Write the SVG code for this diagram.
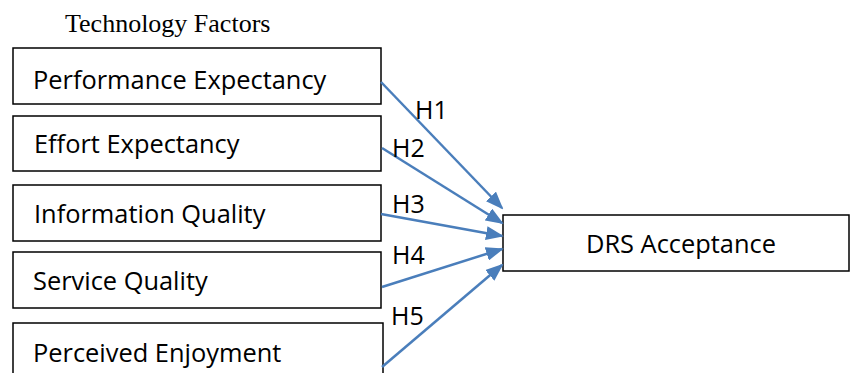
<svg xmlns="http://www.w3.org/2000/svg" width="851" height="373" viewBox="0 0 851 373">
<style>
.box{fill:#fff;stroke:#000;stroke-width:1.5}
.lbl{font-family:"Open Sans","Liberation Sans",sans-serif;font-size:25.4px;fill:#000}
.h{font-family:"Open Sans","Liberation Sans",sans-serif;font-size:25px;fill:#000}
.title{font-family:"Liberation Serif",serif;font-size:26px;fill:#000}
.conn{stroke:#4a7ebb;stroke-width:2.5;fill:none;marker-end:url(#ah)}
</style>
<defs>
<marker id="ah" markerUnits="userSpaceOnUse" markerWidth="18" markerHeight="14" refX="16" refY="7" orient="auto">
<path d="M0,0 L18,7 L0,14 z" fill="#4a7ebb"/>
</marker>
</defs>
<rect width="851" height="373" fill="#fff"/>
<text class="title" x="65" y="32">Technology Factors</text>
<g id="n1"><rect class="box" x="13" y="48" width="368" height="56"/><text class="lbl" x="33" y="89">Performance Expectancy</text></g>
<g id="n2"><rect class="box" x="13" y="116" width="368" height="55"/><text class="lbl" x="34" y="153">Effort Expectancy</text></g>
<g id="n3"><rect class="box" x="13" y="185" width="368" height="56"/><text class="lbl" x="34" y="223">Information Quality</text></g>
<g id="n4"><rect class="box" x="13" y="252" width="368" height="56"/><text class="lbl" x="33" y="290">Service Quality</text></g>
<g id="n5"><rect class="box" x="13" y="323" width="370" height="60"/><text class="lbl" x="33" y="362">Perceived Enjoyment</text></g>
<g id="n6"><rect class="box" x="503" y="215" width="346" height="56"/><text class="lbl" x="586" y="253">DRS Acceptance</text></g>
<g id="connectors">
<line class="conn" x1="381" y1="82" x2="502" y2="208"/>
<line class="conn" x1="382" y1="148" x2="502" y2="223"/>
<line class="conn" x1="381" y1="214" x2="502" y2="236"/>
<line class="conn" x1="382" y1="287" x2="502" y2="249"/>
<line class="conn" x1="382" y1="367" x2="502" y2="265"/>
<text class="h" x="415" y="119">H1</text>
<text class="h" x="392" y="157">H2</text>
<text class="h" x="392" y="213">H3</text>
<text class="h" x="392" y="264">H4</text>
<text class="h" x="391" y="325">H5</text>
</g>
</svg>
